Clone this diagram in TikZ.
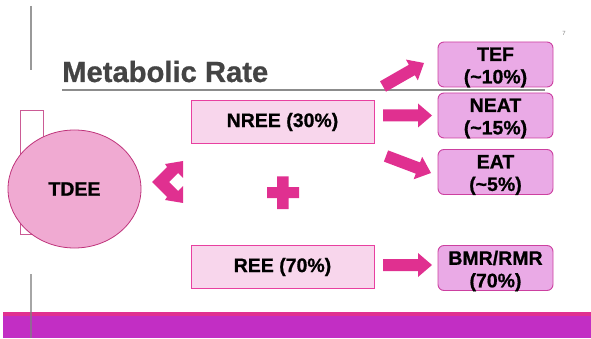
\documentclass[tikz,border=0pt]{standalone}
\usepackage{fontspec}
\setmainfont{Liberation Sans}[BoldFeatures={FakeBold=0.8}]
\usetikzlibrary{calc,shapes.geometric}
\definecolor{arrowc}{RGB}{224,48,144}
\definecolor{bandpurple}{RGB}{194,46,196}
\definecolor{rboxfill}{RGB}{234,170,230}
\definecolor{rboxdraw}{RGB}{204,64,160}
\definecolor{lboxfill}{RGB}{248,214,236}
\definecolor{lboxdraw}{RGB}{232,64,160}
\definecolor{ellfill}{RGB}{240,170,210}
\definecolor{elldraw}{RGB}{190,50,122}
\definecolor{titlegrey}{RGB}{68,68,68}
\newcommand{\blockarr}[2]{%
  \coordinate (#1hb) at ($(#2)!14pt!(#1)$);
  \fill[arrowc] ($(#1)!6pt!90:(#2)$) -- ($(#1hb)!6pt!90:(#2)$) -- ($(#1hb)!12pt!90:(#2)$)
    -- (#2) -- ($(#1hb)!12pt!-90:(#2)$) -- ($(#1hb)!6pt!-90:(#2)$) -- ($(#1)!6pt!-90:(#2)$) -- cycle;
}
\begin{document}
\begin{tikzpicture}[x=1pt,y=-1pt,
  rbox/.style={draw=rboxdraw, fill=rboxfill, line width=0.9pt, rounded corners=6pt,
    minimum width=115pt, minimum height=45pt, inner sep=0pt},
  lbox/.style={draw=lboxdraw, fill=lboxfill, line width=0.9pt,
    minimum width=183pt, minimum height=43pt, inner sep=0pt},
  btxt/.style={font=\fontsize{19.5}{22.5}\selectfont\bfseries, align=center, inner sep=0pt}
]
\useasboundingbox (0,0) rectangle (591,339);
% decorations
\draw[gray!80, line width=1.4pt] (31,6) -- (31,70);
\node[anchor=base west, inner sep=0pt, text=titlegrey, font=\fontsize{29.2}{30}\selectfont\bfseries] (title) at (62,82) {Metabolic Rate};
\draw[gray!90, line width=1.2pt] (62,90) -- (545,90);
\node[text=gray, font=\fontsize{6}{7}\selectfont, inner sep=0pt] (pg) at (564,33) {7};
% bottom band
\fill[arrowc] (3,312) rectangle (591,316);
\fill[bandpurple] (3,316) rectangle (591,338);
\draw[gray, opacity=0.7, line width=1.4pt] (31,274) -- (31,338);
% TDEE
\draw[draw=elldraw!80, line width=0.9pt, fill=white] (20,110) rectangle (43,234);
\node[ellipse, draw=elldraw, fill=ellfill, line width=0.8pt, minimum width=133pt, minimum height=118pt, inner sep=0pt] (tdee) at (74.5,189) {};
\node[btxt] (tdeel) at (tdee.center) {TDEE};
% chevron double arrow
\fill[arrowc] (152,182) -- (167,167) -- (165,164) -- (183,161) -- (183,178) -- (178,173)
  -- (169,182) -- (178,191) -- (183,186) -- (183,203) -- (165,200) -- (167,197) -- cycle;
% plus
\fill[arrowc] (277,176.5) -- (288.5,176.5) -- (288.5,187) -- (299,187) -- (299,198) -- (288.5,198)
  -- (288.5,209) -- (277,209) -- (277,198) -- (267,198) -- (267,187) -- (277,187) -- cycle;
% left boxes
\node[lbox] (nree) at (282.5,122) {};
\node[btxt] (nreel) at (nree.center) {NREE (30\%)};
\node[lbox] (ree) at (282.5,267) {};
\node[btxt] (reel) at (ree.center) {REE (70\%)};
% right boxes
\node[rbox] (tef) at (495.5,64.5) {};
\node[btxt] (tefl) at ([yshift=-3pt]tef.center) {TEF\\(\textasciitilde10\%)};
\node[rbox] (neat) at (495.5,115.5) {};
\node[btxt] (neatl) at ([yshift=-3pt]neat.center) {NEAT\\(\textasciitilde15\%)};
\node[rbox] (eat) at (495.5,172) {};
\node[btxt] (eatl) at ([yshift=-3pt]eat.center) {EAT\\(\textasciitilde5\%)};
\node[rbox] (bmr) at (495.5,268) {};
\node[btxt] (bmrl) at ([yshift=-3pt]bmr.center) {BMR/RMR\\(70\%)};
% block arrows
\coordinate (a1) at (383,86.5);  \coordinate (b1) at (424,63);
\coordinate (a2) at (383,115.5); \coordinate (b2) at (432,115.5);
\coordinate (a3) at (386,156);   \coordinate (b3) at (431,173);
\coordinate (a4) at (383,265);   \coordinate (b4) at (432,265);
\blockarr{a1}{b1}
\blockarr{a2}{b2}
\blockarr{a3}{b3}
\blockarr{a4}{b4}
\end{tikzpicture}
\end{document}
